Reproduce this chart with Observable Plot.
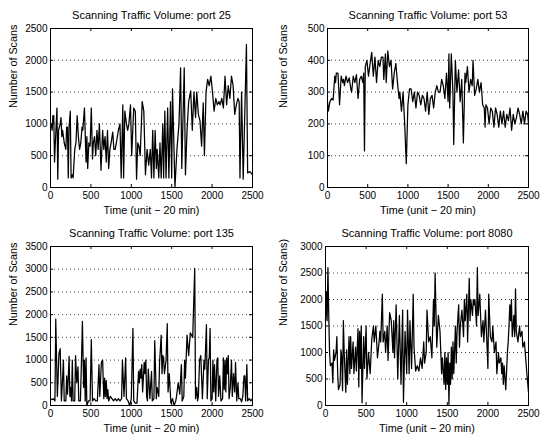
<!DOCTYPE html>
<html><head><meta charset="utf-8">
<script src="https://cdn.jsdelivr.net/npm/d3@7"></script>
<script src="https://cdn.jsdelivr.net/npm/@observablehq/plot@0.6"></script>
<style>
body{margin:0;background:#fff}
#wrap{position:relative;width:540px;height:435px;background:#fff}
.p{position:absolute}
</style>
</head><body><div id="wrap"></div>
<script>
const titles = ["Scanning Traffic Volume: port 25","Scanning Traffic Volume: port 53","Scanning Traffic Volume: port 135","Scanning Traffic Volume: port 8080"];
const xLabel = "Time (unit \u2212 20 min)";
const yLabels = ["Number of Scans","Number of Scans","Number of Scans","Number of Scans)"];
const xTicks = [0,500,1000,1500,2000,2500];
const yTicks25 = [0,500,1000,1500,2000,2500];
const yTicks53 = [0,100,200,300,400,500];
const yTicks135 = [0,500,1000,1500,2000,2500,3000,3500];
const yTicks8080 = [0,500,1000,1500,2000,2500,3000];

const port25 = [[0,950],[10,1000],[20,900],[30,1130],[40,1130],[50,400],[60,700],[80,1250],[90,130],[100,900],[120,1000],[130,1100],[140,800],[150,900],[170,700],[190,600],[200,950],[210,950],[220,150],[230,950],[245,1200],[255,150],[270,200],[280,150],[300,600],[315,700],[330,1130],[345,800],[360,600],[375,700],[390,950],[400,900],[420,1250],[440,400],[450,800],[460,300],[475,700],[490,650],[505,1250],[520,450],[530,700],[545,800],[560,500],[575,900],[590,600],[605,1000],[625,270],[645,900],[660,600],[675,800],[690,400],[705,900],[720,300],[735,600],[750,700],[770,870],[785,600],[800,600],[815,700],[840,900],[860,1000],[875,150],[895,1300],[905,150],[920,1200],[940,1000],[955,900],[970,1000],[990,1300],[1005,500],[1030,1250],[1050,1200],[1065,130],[1080,700],[1095,650],[1110,500],[1135,1350],[1155,1200],[1175,200],[1195,600],[1215,350],[1235,600],[1250,150],[1265,900],[1280,150],[1295,900],[1310,300],[1320,600],[1340,150],[1355,700],[1370,150],[1390,1000],[1400,150],[1415,1200],[1430,150],[1450,1250],[1465,150],[1485,1350],[1500,150],[1510,1550],[1540,0],[1565,600],[1590,1000],[1610,1880],[1625,300],[1655,1880],[1670,200],[1690,900],[1710,1350],[1735,1520],[1755,900],[1775,1500],[1795,1100],[1810,1500],[1830,1150],[1850,1050],[1870,650],[1890,1330],[1905,500],[1925,1500],[1945,1700],[1965,1600],[1985,1750],[2005,1500],[2025,1200],[2045,1400],[2065,1300],[2085,1350],[2100,1300],[2120,1400],[2140,1250],[2160,1750],[2180,1300],[2200,1600],[2220,1400],[2240,1750],[2260,1600],[2280,1150],[2300,1300],[2320,1400],[2335,1350],[2345,150],[2365,1500],[2385,130],[2425,2250],[2440,230],[2470,250],[2500,200]];

const port53 = [[0,270],[10,240],[30,270],[50,280],[70,275],[90,350],[100,330],[110,360],[130,360],[150,260],[170,350],[190,330],[200,340],[210,320],[230,350],[250,330],[270,345],[290,310],[300,300],[320,350],[340,330],[360,355],[380,280],[400,340],[420,350],[440,330],[450,360],[460,115],[470,380],[490,400],[510,350],[530,390],[550,425],[570,350],[590,410],[610,330],[630,400],[650,380],[670,410],[690,410],[700,340],[720,420],[730,330],[750,430],[770,380],[790,400],[810,310],[830,360],[850,390],[870,330],[890,280],[900,300],[920,240],[940,300],[960,200],[980,75],[1000,260],[1020,310],[1040,310],[1060,270],[1080,300],[1100,250],[1120,300],[1140,290],[1160,260],[1180,290],[1200,280],[1220,240],[1240,300],[1260,230],[1280,280],[1300,290],[1320,250],[1340,300],[1360,320],[1380,300],[1400,300],[1420,340],[1440,320],[1460,280],[1480,360],[1500,270],[1510,420],[1520,250],[1540,420],[1560,300],[1570,135],[1590,400],[1610,300],[1630,370],[1650,270],[1670,340],[1690,140],[1710,360],[1720,330],[1740,380],[1760,300],[1780,340],[1800,320],[1810,400],[1830,290],[1850,310],[1870,340],[1890,300],[1910,330],[1930,260],[1950,250],[1960,190],[1970,260],[1990,250],[2010,200],[2030,250],[2050,240],[2070,190],[2090,250],[2110,230],[2130,190],[2150,240],[2170,200],[2190,240],[2210,190],[2230,230],[2250,210],[2270,250],[2290,180],[2310,230],[2330,200],[2350,220],[2370,250],[2390,230],[2410,200],[2430,240],[2450,200],[2470,240],[2490,230],[2500,200]];

const port135 = [[0,150],[20,130],[40,150],[55,100],[65,1900],[85,200],[105,1150],[120,1250],[135,100],[150,600],[160,1000],[170,100],[190,100],[200,650],[210,250],[220,600],[230,1080],[240,200],[250,400],[260,100],[270,1000],[280,100],[300,100],[310,1100],[325,500],[340,850],[350,100],[370,100],[385,1100],[395,1850],[410,400],[420,1000],[430,100],[440,1050],[450,0],[470,100],[490,100],[505,1450],[520,100],[540,150],[560,100],[580,100],[600,900],[610,200],[630,950],[645,1000],[660,150],[670,600],[680,200],[690,550],[700,150],[710,350],[720,100],[740,200],[760,150],[780,100],[800,150],[820,100],[840,150],[860,100],[880,150],[890,1000],[910,200],[930,1050],[940,150],[960,100],[980,0],[1000,150],[1020,1700],[1030,100],[1050,50],[1070,50],[1090,750],[1100,500],[1110,800],[1120,600],[1130,900],[1140,300],[1160,950],[1170,700],[1180,1000],[1190,200],[1200,100],[1210,800],[1230,150],[1250,750],[1260,100],[1280,150],[1290,1430],[1310,150],[1320,400],[1340,200],[1350,950],[1370,1550],[1380,700],[1390,1100],[1400,1050],[1410,700],[1430,1000],[1445,1800],[1455,300],[1470,700],[1490,50],[1510,150],[1530,0],[1550,100],[1560,200],[1580,500],[1600,250],[1620,900],[1630,100],[1650,200],[1660,1000],[1670,600],[1690,1550],[1710,1100],[1730,1600],[1760,1500],[1785,3020],[1795,150],[1810,400],[1820,100],[1830,200],[1845,1000],[1860,1100],[1880,150],[1900,1000],[1910,800],[1930,1780],[1940,150],[1955,1000],[1965,1050],[1975,1700],[1985,100],[2000,150],[2010,1000],[2020,300],[2030,900],[2045,100],[2060,1000],[2070,1050],[2080,200],[2095,650],[2110,100],[2130,150],[2140,1050],[2150,350],[2160,1000],[2170,300],[2180,1050],[2190,700],[2200,1100],[2210,150],[2225,400],[2240,1000],[2250,200],[2265,700],[2280,300],[2290,950],[2305,100],[2320,500],[2330,150],[2350,150],[2365,80],[2380,200],[2395,650],[2405,650],[2415,100],[2430,900],[2440,100],[2460,150],[2480,100],[2500,150]];

const port8080 = [[0,1600],[10,2150],[20,1600],[30,2600],[40,1700],[50,1000],[60,750],[80,800],[90,430],[100,1050],[110,850],[130,1000],[140,1300],[150,600],[160,300],[180,400],[190,1050],[200,900],[210,280],[220,1600],[230,1000],[250,250],[260,1050],[270,400],[290,1300],[300,600],[310,1300],[320,700],[340,1200],[350,600],[370,1100],[380,650],[400,1450],[410,350],[420,1400],[430,700],[440,1500],[450,50],[470,1300],[480,700],[500,1500],[510,500],[530,1000],[550,600],[570,1250],[590,1500],[600,1200],[620,1500],[640,900],[660,1200],[670,1400],[680,1200],[700,2100],[710,1200],[730,1400],[740,1000],[760,1500],[770,850],[790,1750],[810,1600],[830,1000],[840,1600],[850,900],[870,1900],[890,500],[910,1700],[930,400],[950,1800],[960,60],[980,1400],[1000,600],[1010,1800],[1030,600],[1040,1600],[1060,700],[1080,2100],[1090,1100],[1110,650],[1130,750],[1150,650],[1170,900],[1190,700],[1210,1200],[1220,800],[1240,1000],[1250,1800],[1270,1200],[1290,1300],[1310,900],[1330,2000],[1340,1500],[1350,2500],[1370,1100],[1390,1700],[1410,1400],[1430,600],[1440,900],[1460,400],[1470,1000],[1480,300],[1490,900],[1500,400],[1510,1000],[1520,20],[1530,800],[1540,400],[1550,1100],[1560,500],[1570,1200],[1580,600],[1600,1500],[1610,800],[1620,1400],[1640,1900],[1650,1100],[1660,1500],[1680,1800],[1700,1300],[1710,2000],[1720,1600],[1740,2100],[1750,1200],[1770,2400],[1780,1600],[1790,2000],[1810,1700],[1820,2000],[1830,1900],[1840,2000],[1860,1500],[1870,2600],[1880,1700],[1900,2100],[1920,1300],[1940,1600],[1950,1200],[1970,1800],[1990,1100],[2000,700],[2010,2100],[2030,1300],[2050,1200],[2060,1500],[2080,1000],[2100,1200],[2110,600],[2130,1000],[2140,800],[2160,900],[2170,600],[2180,800],[2190,400],[2200,750],[2220,300],[2240,1000],[2250,1200],[2260,1500],[2270,1900],[2280,1600],[2290,2000],[2300,1300],[2310,1500],[2320,1700],[2330,1300],[2340,2200],[2350,1400],[2370,1200],[2390,1500],[2400,1300],[2420,1400],[2430,1100],[2450,1200],[2460,1000],[2480,600],[2500,250]];

const FONT = "'Liberation Sans', Arial, Helvetica, sans-serif";

function panel(cfg) {
  const {title, data, yTicks, ylabel, left, top, w, h, mL, mR, mT, mB} = cfg;
  const iw = w - mL - mR, ih = h - mT - mB;
  const svg = Plot.plot({
    width: w, height: h,
    marginLeft: mL, marginRight: mR, marginTop: mT, marginBottom: mB,
    style: {fontFamily: FONT, fontSize: "10px", background: "#fff", color: "#000"},
    x: {domain: [0, 2500]},
    y: {domain: [0, yTicks[yTicks.length - 1]]},
    marks: [
      Plot.gridY(yTicks, {stroke: "#000", strokeOpacity: 0.75, strokeDasharray: "1,3"}),
      Plot.line(data, {x: d => d[0], y: d => d[1], stroke: "#000", strokeWidth: 1.25}),
      Plot.tickX(xTicks, {x: d => d, insetTop: ih - 3, stroke: "#000"}),
      Plot.tickX(xTicks, {x: d => d, insetBottom: ih - 3, stroke: "#000"}),
      Plot.tickY(yTicks, {y: d => d, insetRight: iw - 3, stroke: "#000"}),
      Plot.tickY(yTicks, {y: d => d, insetLeft: iw - 3, stroke: "#000"}),
      Plot.frame({stroke: "#000"}),
      Plot.axisX(xTicks, {tickSize: 0, tickPadding: 4, tickFormat: d => String(d), label: null, fontSize: 10}),
      Plot.axisY(yTicks, {tickSize: 0, tickPadding: 3, tickFormat: d => String(d), label: null, fontSize: 10}),
      Plot.text([xLabel], {frameAnchor: "bottom", dy: 23, fontSize: 10.8, lineAnchor: "middle"}),
      Plot.text([ylabel], {frameAnchor: "left", dx: -(mL - 13), rotate: -90, fontSize: 10.8, lineAnchor: "middle"}),
      Plot.text([title], {frameAnchor: "top", dy: -13, fontSize: 11, lineAnchor: "middle"})
    ]
  });
  svg.classList.add("p");
  svg.style.left = left + "px";
  svg.style.top = top + "px";
  document.getElementById("wrap").appendChild(svg);
}

panel({title: titles[0], data: port25, yTicks: yTicks25, ylabel: yLabels[0], left: 0, top: 0, w: 270, h: 218, mL: 50, mR: 18, mT: 28, mB: 31});
panel({title: titles[1], data: port53, yTicks: yTicks53, ylabel: yLabels[1], left: 270, top: 0, w: 270, h: 218, mL: 57, mR: 12, mT: 28, mB: 31});
panel({title: titles[2], data: port135, yTicks: yTicks135, ylabel: yLabels[2], left: 0, top: 218, w: 270, h: 217, mL: 50, mR: 18, mT: 28, mB: 30});
panel({title: titles[3], data: port8080, yTicks: yTicks8080, ylabel: yLabels[3], left: 270, top: 218, w: 270, h: 217, mL: 55, mR: 12, mT: 28, mB: 30});
</script>
</body></html>
